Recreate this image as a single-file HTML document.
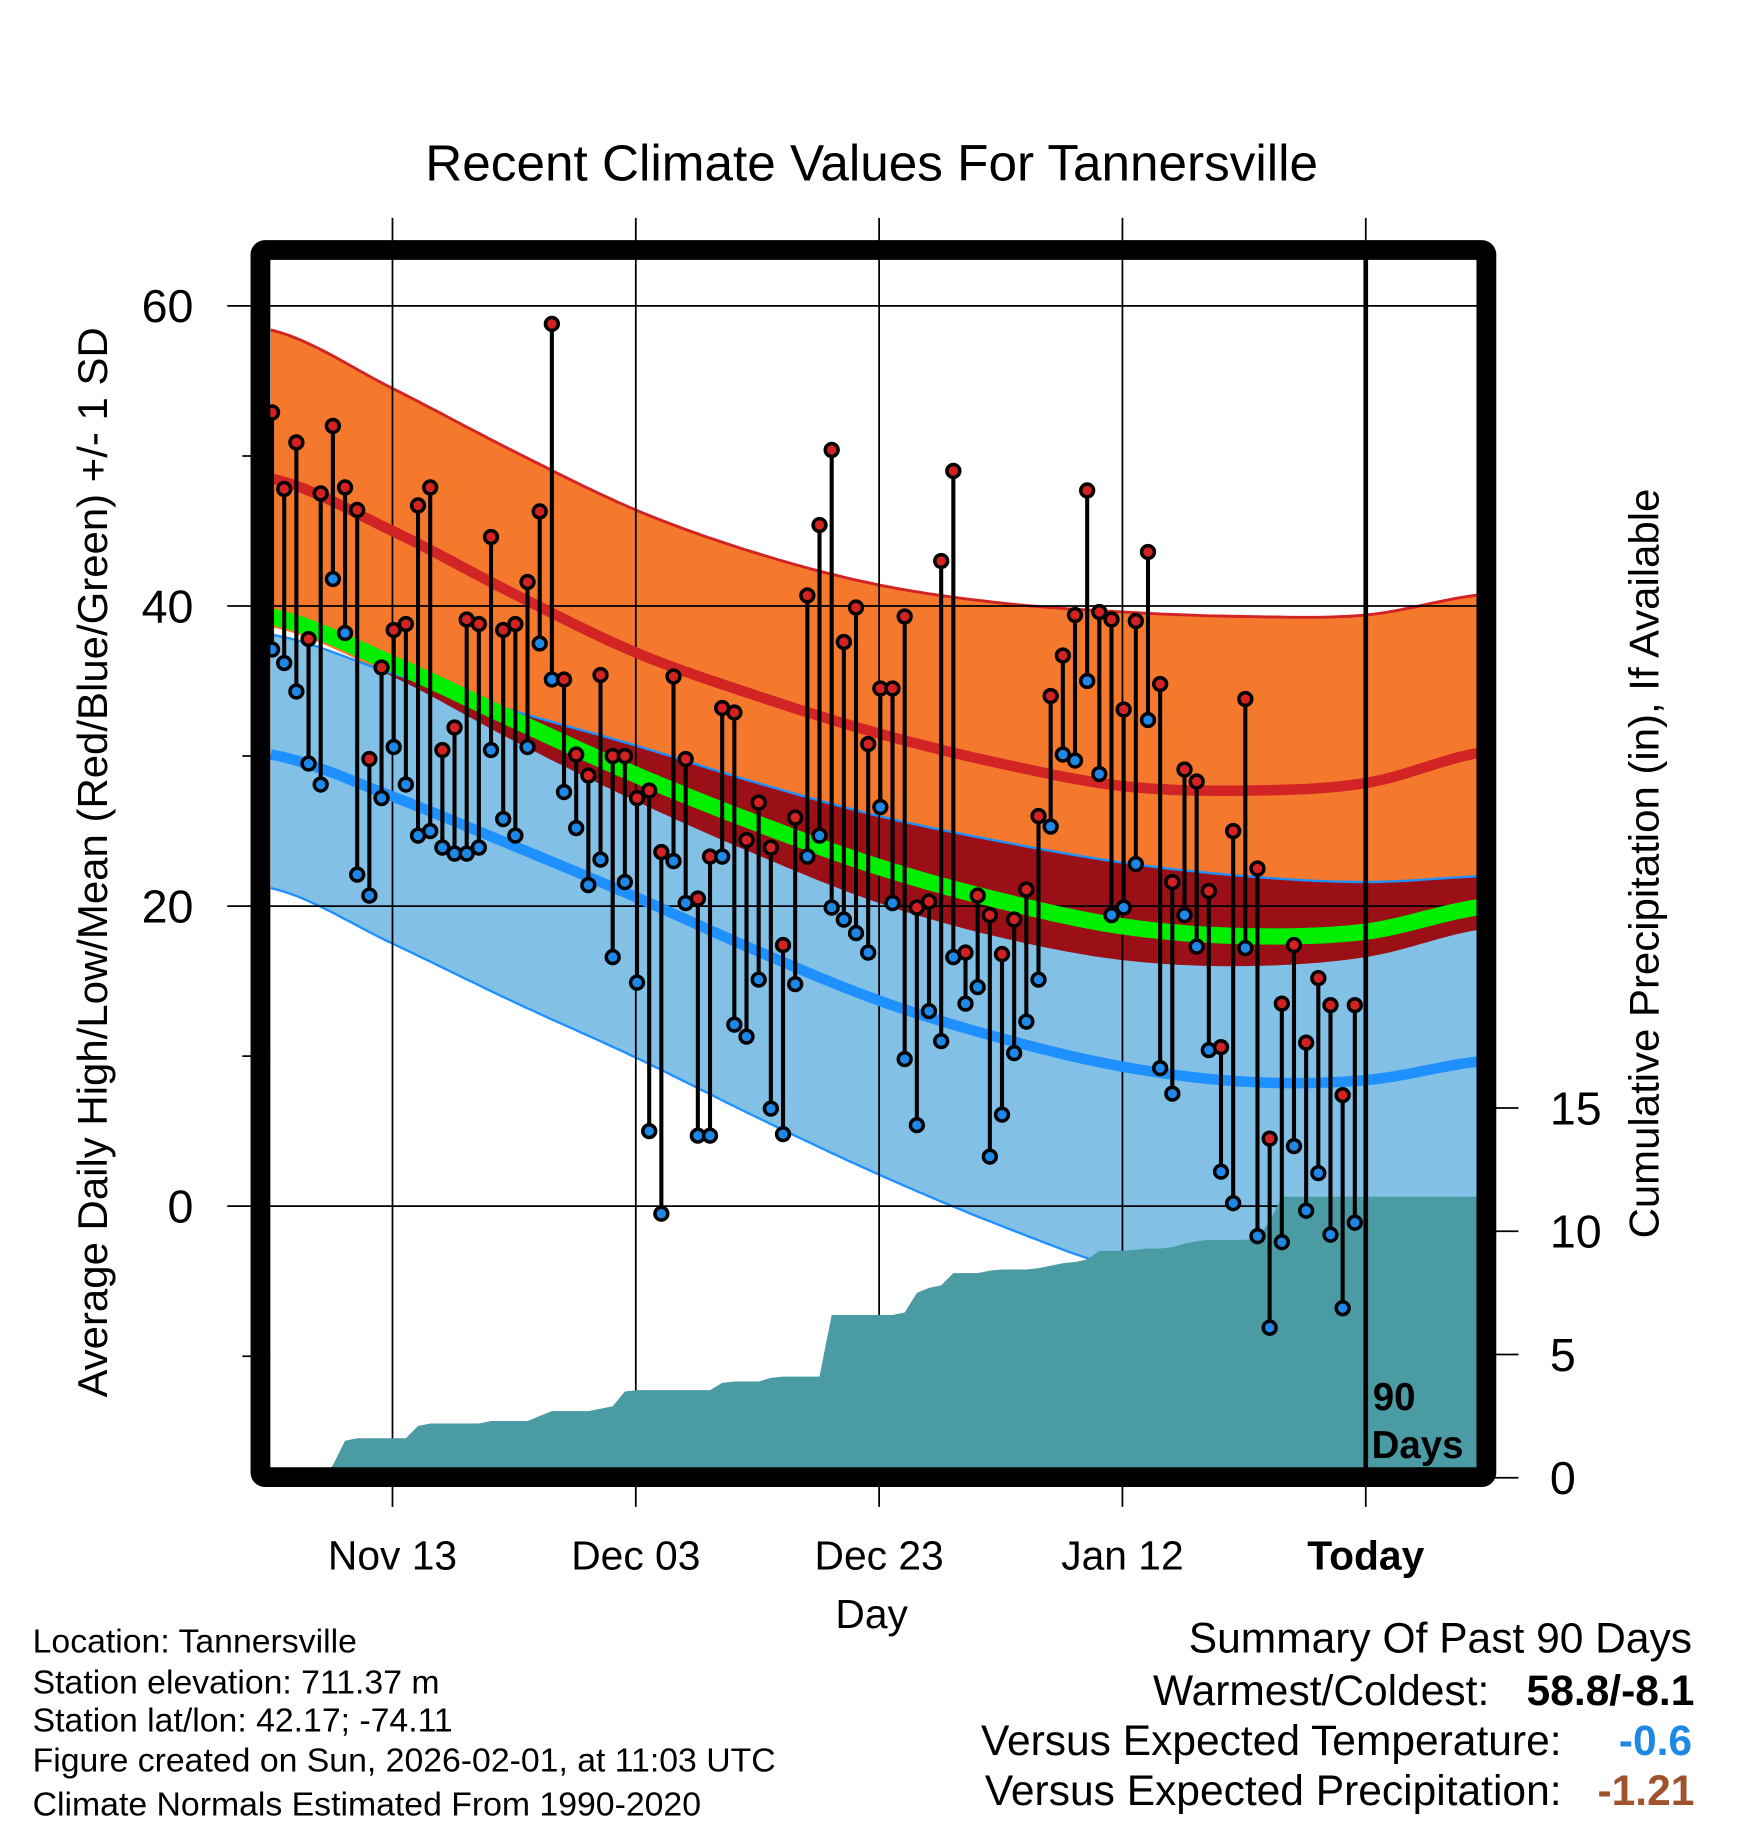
<!DOCTYPE html>
<html><head><meta charset="utf-8"><style>
html,body{margin:0;padding:0;background:#fff}
svg{display:block}
text{font-family:"Liberation Sans",Arial,sans-serif}
</style></head><body>
<svg id="chart" xmlns="http://www.w3.org/2000/svg" width="1748" height="1828" viewBox="0 0 1500 1568.6" preserveAspectRatio="none">
<g id="bands"></g>
<g id="grid"></g>
<g id="precip"></g>
<g id="means"></g>
<g id="stems"></g>
<g id="axes"></g>
<text x="748" y="155" font-size="44" text-anchor="middle">Recent Climate Values For Tannersville</text>
<text transform="translate(92,740) rotate(-90)" font-size="36" text-anchor="middle">Average Daily High/Low/Mean (Red/Blue/Green) +/- 1 SD</text>
<text transform="translate(1423,741) rotate(-90)" font-size="36" text-anchor="middle">Cumulative Precipitation (in), If Available</text>
<text x="748" y="1397" font-size="35" text-anchor="middle">Day</text>
<g font-size="29">
<text x="28" y="1418">Location: Tannersville</text>
<text x="28" y="1453">Station elevation: 711.37 m</text>
<text x="28" y="1486">Station lat/lon: 42.17; -74.11</text>
<text x="28" y="1520">Figure created on Sun, 2026-02-01, at 11:03 UTC</text>
<text x="28" y="1558">Climate Normals Estimated From 1990-2020</text>
</g>
<g font-size="36.5">
<text x="1452" y="1418" text-anchor="end">Summary Of Past 90 Days</text>
<text x="1278" y="1463" text-anchor="end">Warmest/Coldest:</text>
<text x="1454" y="1463" text-anchor="end" font-weight="bold">58.8/-8.1</text>
<text x="1340" y="1506" text-anchor="end">Versus Expected Temperature:</text>
<text x="1452" y="1506" text-anchor="end" font-weight="bold" fill="#1e88e5">-0.6</text>
<text x="1340" y="1549" text-anchor="end">Versus Expected Precipitation:</text>
<text x="1454" y="1549" text-anchor="end" font-weight="bold" fill="#a0522d">-1.21</text>
</g>
</svg>
<script>
// ---- data ----
const highs=[52.9,47.8,50.9,37.8,47.5,52.0,47.9,46.4,29.8,35.9,38.4,38.8,46.7,47.9,30.4,31.9,39.1,38.8,44.6,38.4,38.8,41.6,46.3,58.8,35.1,30.1,28.7,35.4,30.0,30.0,27.2,27.7,23.6,35.3,29.8,20.5,23.3,33.2,32.9,24.4,26.9,23.9,17.4,25.9,40.7,45.4,50.4,37.6,39.9,30.8,34.5,34.5,39.3,19.9,20.3,43.0,49.0,16.9,20.7,19.4,16.8,19.1,21.1,26.0,34.0,36.7,39.4,47.7,39.6,39.1,33.1,39.0,43.6,34.8,21.6,29.1,28.3,21.0,10.6,25.0,33.8,22.5,4.5,13.5,17.4,10.9,15.2,13.4,7.4,13.4];
const lows=[37.1,36.2,34.3,29.5,28.1,41.8,38.2,22.1,20.7,27.2,30.6,28.1,24.7,25.0,23.9,23.5,23.5,23.9,30.4,25.8,24.7,30.6,37.5,35.1,27.6,25.2,21.4,23.1,16.6,21.6,14.9,5.0,-0.5,23.0,20.2,4.7,4.7,23.3,12.1,11.3,15.1,6.5,4.8,14.8,23.3,24.7,19.9,19.1,18.2,16.9,26.6,20.2,9.8,5.4,13.0,11.0,16.6,13.5,14.6,3.3,6.1,10.2,12.3,15.1,25.3,30.1,29.7,35.0,28.8,19.4,19.9,22.8,32.4,9.2,7.5,19.4,17.3,10.4,2.3,0.2,17.2,-2.0,-8.1,-2.4,4.0,-0.3,2.2,-1.9,-6.8,-1.1];
const precipCum=[0,0,0,0,0,0.5,1.5,1.6,1.6,1.6,1.6,1.6,2.1,2.2,2.2,2.2,2.2,2.2,2.3,2.3,2.3,2.3,2.5,2.7,2.7,2.7,2.7,2.8,2.9,3.5,3.55,3.55,3.55,3.55,3.55,3.55,3.55,3.85,3.9,3.9,3.9,4.05,4.1,4.1,4.1,4.1,6.6,6.6,6.6,6.6,6.6,6.6,6.7,7.5,7.7,7.8,8.3,8.3,8.3,8.4,8.45,8.45,8.45,8.5,8.6,8.7,8.75,8.85,9.2,9.2,9.2,9.25,9.3,9.3,9.35,9.5,9.6,9.65,9.65,9.65,9.65,9.7,10.4,11.4,11.4,11.4,11.4,11.4,11.4,11.4];
const normDays=[-90,-80,-70,-60,-50,-40,-30,-20,-10,0,10];
const highUp=[58.4,54.5,50.3,46.4,43.5,41.4,40.2,39.6,39.3,39.4,40.8];
const highMean=[48.5,45.0,40.8,36.9,34.0,31.5,29.5,28.0,27.7,28.2,30.3];
const highDn=[38.6,35.3,31.0,27.0,23.4,20.2,17.9,16.4,16.0,16.6,18.5];
const lowUp=[38.1,35.5,33.0,30.7,28.2,26.0,24.3,22.9,22.0,21.6,22.0];
const lowMean=[30.1,27.3,24.0,20.6,17.0,13.7,11.2,9.3,8.3,8.4,9.7];
const lowDn=[21.2,17.5,13.6,9.9,5.9,2.1,-1.3,-4.2,-5.8,-6.2,-5.5];
const yTicks=[60,40,20,0];
const yMinor=[50,30,10,-10];
const pTicks=[0,5,10,15];
const xTickLabels=["Nov 13","Dec 03","Dec 23","Jan 12","Today"];
const xTickOffsets=[-80,-60,-40,-20,0];

// ---- scales ----
const L=232,R=1268,T=222,B=1260;
const X=d=>1172+d*10.44;
const Y=v=>1035-v*12.875;
const P=v=>1268-v*21.15;
const NS="http://www.w3.org/2000/svg";
function mk(tag,attrs,parent){const e=document.createElementNS(NS,tag);for(const k in attrs)e.setAttribute(k,attrs[k]);parent.appendChild(e);return e;}
function interp(arr,d){
  const n=normDays.length;let i=Math.floor((d-normDays[0])/10);if(i<0)i=0;if(i>n-2)i=n-2;
  const t=(d-normDays[i])/10;
  const p0=arr[Math.max(i-1,0)],p1=arr[i],p2=arr[i+1],p3=arr[Math.min(i+2,n-1)];
  const m1=(p2-p0)/2,m2=(p3-p1)/2;const t2=t*t,t3=t2*t;
  return (2*t3-3*t2+1)*p1+(t3-2*t2+t)*m1+(-2*t3+3*t2)*p2+(t3-t2)*m2;
}
const samp=[];for(let d=-90;d<=9.2001;d+=0.5)samp.push(Math.min(d,9.2));samp.push(9.2);
function pts(fn){return samp.map(d=>X(d).toFixed(1)+","+Y(fn(d)).toFixed(1));}
const bands=document.getElementById('bands');
let e;
e=mk('polygon',{points:pts(d=>interp(highUp,d)).concat(pts(d=>interp(highDn,d)).reverse()).join(' '),fill:'#f4792d'},bands);

e=mk('polygon',{points:pts(d=>interp(lowUp,d)).concat(pts(d=>interp(lowDn,d)).reverse()).join(' '),fill:'#82c0e6'},bands);

e=mk('polygon',{points:pts(d=>interp(lowUp,d)).concat(pts(d=>Math.min(interp(highDn,d),interp(lowUp,d))).reverse()).join(' '),fill:'#9a1016'},bands);

e=mk('polyline',{points:pts(d=>interp(highUp,d)).join(' '),fill:'none',stroke:'#d22424','stroke-width':2.5},bands);

e=mk('polyline',{points:pts(d=>interp(lowUp,d)).join(' '),fill:'none',stroke:'#1e90ff','stroke-width':2},bands);

e=mk('polyline',{points:pts(d=>interp(lowDn,d)).join(' '),fill:'none',stroke:'#1e90ff','stroke-width':2},bands);


// grid
const grid=document.getElementById('grid');
yTicks.forEach(v=>{e=mk('line',{x1:195,x2:R,y1:Y(v),y2:Y(v),stroke:'#000','stroke-width':1.5},grid);
});
xTickOffsets.forEach(d=>{e=mk('line',{x1:X(d),x2:X(d),y1:187,y2:1293,stroke:'#000','stroke-width':1.5},grid);
});

// precip
const pg=document.getElementById('precip');
const ppts=precipCum.map((v,i)=>X(i-90+0.1).toFixed(1)+","+P(v).toFixed(1));
ppts.push(R+","+P(precipCum[precipCum.length-1]).toFixed(1));
e=mk('polygon',{points:[L+","+B].concat([X(-89.9).toFixed(1)+","+B]).concat(ppts).concat([R+","+B]).join(' '),fill:'#4a9ba3'},pg);


// mean lines
const mg=document.getElementById('means');
e=mk('polyline',{points:pts(d=>(interp(highMean,d)+interp(lowMean,d))/2).join(' '),fill:'none',stroke:'#00ee00','stroke-width':14},mg);

e=mk('polyline',{points:pts(d=>interp(lowMean,d)).join(' '),fill:'none',stroke:'#1e90ff','stroke-width':9},mg);

e=mk('polyline',{points:pts(d=>interp(highMean,d)).join(' '),fill:'none',stroke:'#d22424','stroke-width':9},mg);


// stems
const sg=document.getElementById('stems');
highs.forEach((h,i)=>{const x=X(i-90+0.1);
e=mk('line',{x1:x,x2:x,y1:Y(h),y2:Y(lows[i]),stroke:'#000','stroke-width':3.5},sg);

e=mk('circle',{cx:x,cy:Y(lows[i]),r:5.5,fill:'#1e88e8',stroke:'#000','stroke-width':3},sg);

e=mk('circle',{cx:x,cy:Y(h),r:5.5,fill:'#d42222',stroke:'#000','stroke-width':3},sg);

});

// axes
const ax=document.getElementById('axes');
e=mk('line',{x1:X(0),x2:X(0),y1:T,y2:B,stroke:'#000','stroke-width':4},ax);

e=mk('text',{x:1178,y:1210,'font-size':33,'font-weight':'bold'},ax);e.textContent='90';

e=mk('text',{x:1177,y:1251,'font-size':33,'font-weight':'bold'},ax);e.textContent='Days';

e=mk('rect',{x:223.5,y:214.5,width:1052,height:1053,fill:'none',stroke:'#000','stroke-width':17,rx:4},ax);

yTicks.forEach(v=>{e=mk('text',{x:166,y:Y(v)+14,'font-size':40,'text-anchor':'end'},ax);e.textContent=v;
});
yMinor.forEach(v=>{e=mk('line',{x1:208,x2:L,y1:Y(v),y2:Y(v),stroke:'#000','stroke-width':1.5},ax);
});
pTicks.forEach(v=>{e=mk('line',{x1:1283,x2:1303,y1:P(v),y2:P(v),stroke:'#000','stroke-width':1.5},ax);

e=mk('text',{x:1330,y:P(v)+14,'font-size':40},ax);e.textContent=v;
});
xTickOffsets.forEach((d,i)=>{e=mk('text',{x:X(d),y:1347,'font-size':35,'text-anchor':'middle','font-weight':i==4?'bold':'normal'},ax);e.textContent=xTickLabels[i];
});
</script>
</body></html>
